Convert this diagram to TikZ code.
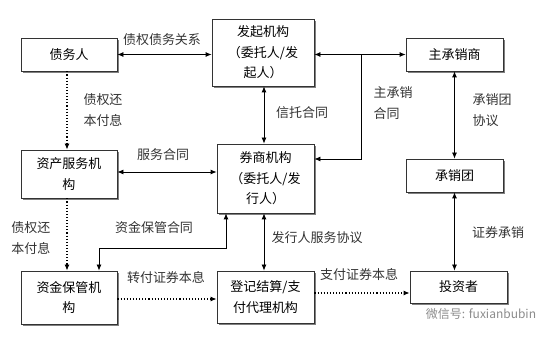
\documentclass[tikz,border=0pt]{standalone}
\usepackage{fontspec}
\usepackage{xcolor}
\usepackage{tikz}
\usetikzlibrary{shapes,arrows,arrows.meta,positioning,calc,shadows}
\newfontfamily\cjk{Noto Sans CJK SC}

\begin{document}
\begin{tikzpicture}[
    x=1pt, y=-1pt,
    font=\cjk\fontsize{13}{20.5}\selectfont,
    box/.style={rectangle, draw=black!80, fill=white, line width=0.8pt, align=center, inner sep=0pt,
        drop shadow={shadow xshift=1.8pt, shadow yshift=-1.8pt, fill=black!50, opacity=1}},
    lbl/.style={align=left, inner sep=0pt, text=black!80},
    biarrow/.style={{Latex[length=6pt,width=5pt]}-{Latex[length=6pt,width=5pt]}, line width=0.8pt},
    arrow/.style={-{Latex[length=6pt,width=5pt]}, line width=0.8pt},
    dotarrow/.style={-{Latex[length=6pt,width=5pt]}, line width=1.1pt, dotted}
]
    \useasboundingbox (0,0) rectangle (558,339);

    % boxes
    \node[box, minimum width=96pt, minimum height=33pt] (debtor) at (69,54.5) {债务人};
    \node[box, minimum width=102pt, minimum height=67pt] (sponsor) at (263,52.5) {发起机构\\（委托人/发\\起人）};
    \node[box, minimum width=97pt, minimum height=33pt] (lead) at (454.5,54.5) {主承销商};
    \node[box, minimum width=96pt, minimum height=48pt] (servicer) at (69,174) {资产服务机\\构};
    \node[box, minimum width=97pt, minimum height=69pt] (broker) at (265.5,178.5) {券商机构\\（委托人/发\\行人）};
    \node[box, minimum width=97pt, minimum height=33pt] (syndicate) at (454.5,175.5) {承销团};
    \node[box, minimum width=96pt, minimum height=53pt] (custodian) at (69,297.5) {资金保管机\\构};
    \node[box, minimum width=97pt, minimum height=52pt] (registrar) at (265.5,297) {登记结算/支\\付代理机构};
    \node[box, minimum width=97pt, minimum height=32pt] (investor) at (458.5,287) {投资者};

    % connectors
    \draw[biarrow] (debtor.east) -- (debtor.east -| sponsor.west);
    \draw[biarrow] (lead.west) -- (lead.west -| sponsor.east);
    \coordinate (split) at (361,54.5);
    \coordinate (leadbend) at (361,159);
    \draw[arrow] (split) -- (leadbend) -- (leadbend -| broker.east);
    \draw[biarrow] (lead.south) -- (syndicate.north);
    \draw[biarrow] (syndicate.south) -- (syndicate.south |- investor.north);
    \draw[biarrow] ([xshift=1pt]sponsor.south) -- ([xshift=1pt]sponsor.south |- broker.north);
    \draw[biarrow] ([xshift=-1.5pt]broker.south) -- ([xshift=-1.5pt]broker.south |- registrar.north);
    \draw[biarrow] ([yshift=2pt]servicer.east) -- ([yshift=2pt]servicer.east -| broker.west);
    \coordinate (fundtop) at (226,248);
    \coordinate (fundbend) at (99,248);
    \draw[biarrow] (fundtop |- broker.south) -- (fundtop) -- (fundbend) -- (fundbend |- custodian.north);
    \draw[dotarrow] ([xshift=-2pt]debtor.south) -- ([xshift=-2pt]servicer.north);
    \draw[dotarrow] ([xshift=-2pt]servicer.south) -- ([xshift=-2pt]custodian.north);
    \draw[dotarrow] ([yshift=-1.5pt]custodian.east) -- ([yshift=-1.5pt]custodian.east -| registrar.west);
    \draw[dotarrow] ([yshift=4pt]registrar.east) -- ([yshift=4pt]registrar.east -| investor.west);

    % labels
    \node[lbl] (debtlbl) at (162,40) {债权债务关系};
    \node[lbl] (repay1) at (103,110) {债权还\\本付息};
    \node[lbl] (servlbl) at (163,155) {服务合同};
    \node[lbl] (trustlbl) at (302,113) {信托合同};
    \node[lbl] (leadlbl) at (393,103) {主承销\\合同};
    \node[lbl] (synlbl) at (492,110) {承销团\\协议};
    \node[lbl] (repay2) at (31,238) {债权还\\本付息};
    \node[lbl] (fundlbl) at (154,228) {资金保管合同};
    \node[lbl] (issuelbl) at (317,238) {发行人服务协议};
    \node[lbl] (underlbl) at (498,233) {证券承销};
    \node[lbl] (transfer) at (166,278) {转付证券本息};
    \node[lbl] (paylbl) at (359,275) {支付证券本息};
    \node[lbl, text=black!45, font=\cjk\fontsize{12}{14}\selectfont] (mark) at (481,314) {微信号: fuxianbubin};
\end{tikzpicture}
\end{document}
